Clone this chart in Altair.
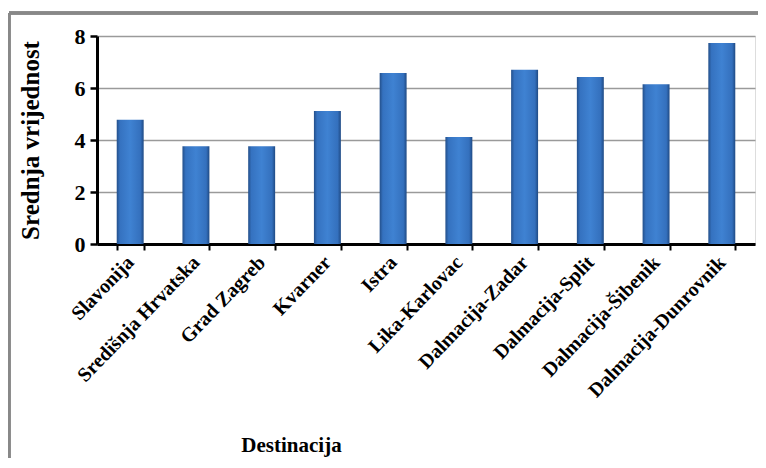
import altair as alt
import pandas as pd

destinations = ["Slavonija", "Središnja Hrvatska", "Grad Zagreb", "Kvarner", "Istra",
                "Lika-Karlovac", "Dalmacija-Zadar", "Dalmacija-Split", "Dalmacija-Šibenik",
                "Dalmacija-Dunrovnik"]
values = [4.78, 3.76, 3.76, 5.12, 6.58, 4.12, 6.70, 6.42, 6.14, 7.73]
y_ticks = [0, 2, 4, 6, 8]

df = pd.DataFrame({"Destinacija": destinations, "Vrijednost": values})

FONT = "Liberation Serif"

grad = alt.Gradient(
    gradient="linear", x1=0, x2=1, y1=0, y2=0,
    stops=[
        alt.GradientStop(offset=0, color="#234f8a"),
        alt.GradientStop(offset=0.12, color="#3572c0"),
        alt.GradientStop(offset=0.5, color="#3f82d2"),
        alt.GradientStop(offset=0.88, color="#3470bd"),
        alt.GradientStop(offset=1, color="#1f4a84"),
    ],
)

bars = alt.Chart(df).mark_bar(color=grad).encode(
    x=alt.X("Destinacija:N", sort=destinations,
            scale=alt.Scale(paddingInner=0.59, paddingOuter=0.3),
            axis=alt.Axis(title="Destinacija", labelAngle=-46, labelAlign="right",
                          labelBaseline="middle", labelFont=FONT, labelFontWeight="bold",
                          labelFontSize=20, labelColor="black", labelPadding=9,
                          labelOffset=0, labelLimit=0,
                          titleFont=FONT, titleFontWeight="bold", titleFontSize=21,
                          titleColor="black", titleX=194, titleY=190,
                          domainColor="black", domainWidth=3,
                          tickColor="black", tickWidth=2, tickSize=6, tickBand="extent",
                          bandPosition=0, grid=False)),
    y=alt.Y("Vrijednost:Q",
            scale=alt.Scale(domain=[0, 8]),
            axis=alt.Axis(title="Srednja vrijednost", values=y_ticks, format="d",
                          labelFont=FONT, labelFontWeight="bold", labelFontSize=22,
                          labelColor="black", labelPadding=5,
                          titleFont=FONT, titleFontWeight="bold", titleFontSize=25,
                          titleColor="black", titleX=-54, titleY=104,
                          domainColor="black", domainWidth=3,
                          tickColor="black", tickWidth=2.5, tickSize=7,
                          grid=True, gridColor="#9a9a9a", gridWidth=1.5)),
)

left_border = alt.Chart(df).mark_rule(color="#888888", strokeWidth=2.5).encode(
    x=alt.value(-88), y=alt.value(-23), y2=alt.value(440)
)
top_border = alt.Chart(df).mark_rule(color="#888888", strokeWidth=2.5).encode(
    x=alt.value(-88), x2=alt.value(680), y=alt.value(-23)
)

chart = alt.layer(bars, left_border, top_border).properties(
    width=658, height=208,
    autosize=alt.AutoSizeParams(type="none"),
    padding={"left": 89, "top": 28, "right": 3, "bottom": 214},
).configure_view(stroke=None).configure(background="white")

chart.save("out.html", embed_options={"renderer": "svg", "actions": False})
